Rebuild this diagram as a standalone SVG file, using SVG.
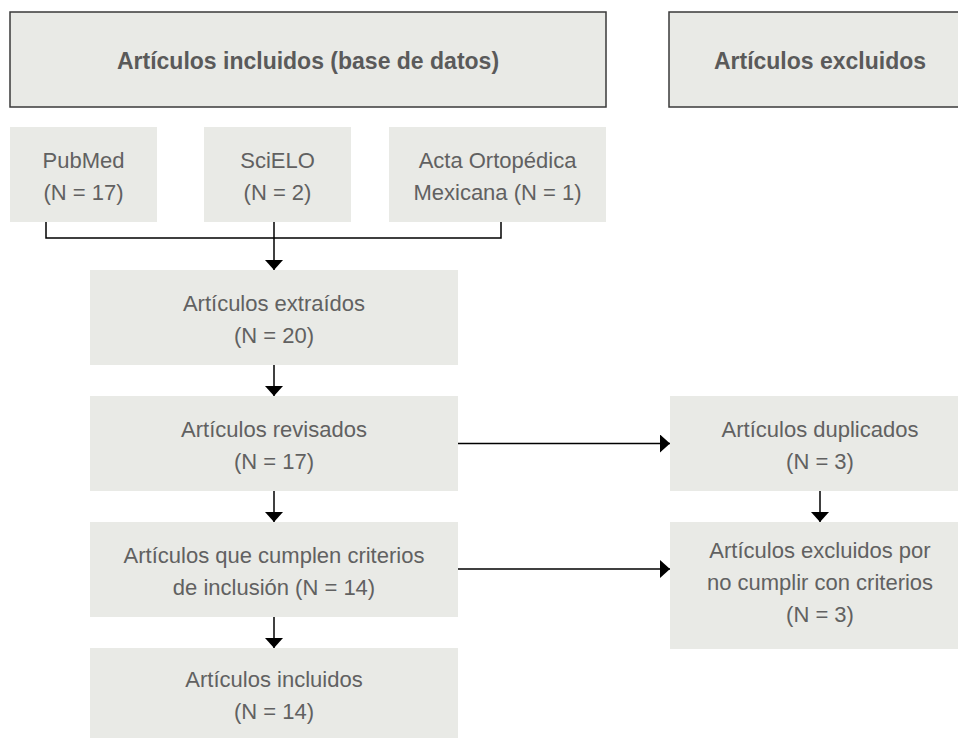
<svg xmlns="http://www.w3.org/2000/svg" width="958" height="738" viewBox="0 0 958 738">
<defs>
<style>
.box{fill:#E9EAE6;}
.hdr{fill:#E9EAE6;stroke:#3a3a3a;stroke-width:1.5;}
.t{font-family:"Liberation Sans",Arial,sans-serif;font-size:22px;fill:#616161;text-anchor:middle;}
.h{font-family:"Liberation Sans",Arial,sans-serif;font-size:23px;font-weight:bold;fill:#5a5a5a;text-anchor:middle;}
.c{stroke:#000;stroke-width:1.5;fill:none;}
.a{stroke:#000;stroke-width:1.5;fill:none;marker-end:url(#ah);}
</style>
<marker id="ah" markerUnits="userSpaceOnUse" markerWidth="10" markerHeight="18" refX="10" refY="9" orient="auto" viewBox="0 0 10 18">
<path d="M0,0 L10,9 L0,18 Z" fill="#000"/>
</marker>
</defs>
<rect width="958" height="738" fill="#fff"/>
<g id="hdr-incluidos">
<rect class="hdr" x="10" y="12" width="596" height="95"/>
<text class="h" x="308" y="69">Artículos incluidos (base de datos)</text>
</g>
<g id="hdr-excluidos">
<rect class="hdr" x="669" y="12" width="302" height="95"/>
<text class="h" x="820" y="69">Artículos excluidos</text>
</g>
<g id="pubmed">
<rect class="box" x="10" y="127" width="147" height="95"/>
<text class="t" x="83.5" y="167.5">PubMed</text>
<text class="t" x="83.5" y="199.5">(N = 17)</text>
</g>
<g id="scielo">
<rect class="box" x="204" y="127" width="147" height="95"/>
<text class="t" x="277.5" y="167.5">SciELO</text>
<text class="t" x="277.5" y="199.5">(N = 2)</text>
</g>
<g id="acta">
<rect class="box" x="389" y="127" width="217" height="95"/>
<text class="t" x="497.5" y="167.5">Acta Ortopédica</text>
<text class="t" x="497.5" y="199.5">Mexicana (N = 1)</text>
</g>
<g id="extraidos">
<rect class="box" x="90" y="270" width="368" height="95"/>
<text class="t" x="274" y="310.5">Artículos extraídos</text>
<text class="t" x="274" y="342.5">(N = 20)</text>
</g>
<g id="revisados">
<rect class="box" x="90" y="396" width="368" height="95"/>
<text class="t" x="274" y="436.5">Artículos revisados</text>
<text class="t" x="274" y="468.5">(N = 17)</text>
</g>
<g id="cumplen">
<rect class="box" x="90" y="522" width="368" height="95"/>
<text class="t" x="274" y="562.5">Artículos que cumplen criterios</text>
<text class="t" x="274" y="594.5">de inclusión (N = 14)</text>
</g>
<g id="incluidos">
<rect class="box" x="90" y="648" width="368" height="90"/>
<text class="t" x="274" y="687">Artículos incluidos</text>
<text class="t" x="274" y="719">(N = 14)</text>
</g>
<g id="duplicados">
<rect class="box" x="670" y="396" width="301" height="95"/>
<text class="t" x="820" y="436.5">Artículos duplicados</text>
<text class="t" x="820" y="468.5">(N = 3)</text>
</g>
<g id="excluidos">
<rect class="box" x="670" y="522" width="301" height="127"/>
<text class="t" x="820" y="558">Artículos excluidos por</text>
<text class="t" x="820" y="590">no cumplir con criterios</text>
<text class="t" x="820" y="622">(N = 3)</text>
</g>
<g id="connectors">
<polyline class="c" points="46,222 46,238 501,238 501,222"/>
<line class="a" x1="274" y1="222" x2="274" y2="270"/>
<line class="a" x1="274" y1="365" x2="274" y2="396"/>
<line class="a" x1="274" y1="491" x2="274" y2="522"/>
<line class="a" x1="274" y1="617" x2="274" y2="648"/>
<line class="a" x1="458" y1="443.5" x2="670" y2="443.5"/>
<line class="a" x1="458" y1="569" x2="670" y2="569"/>
<line class="a" x1="820" y1="491" x2="820" y2="522"/>
</g>
</svg>
